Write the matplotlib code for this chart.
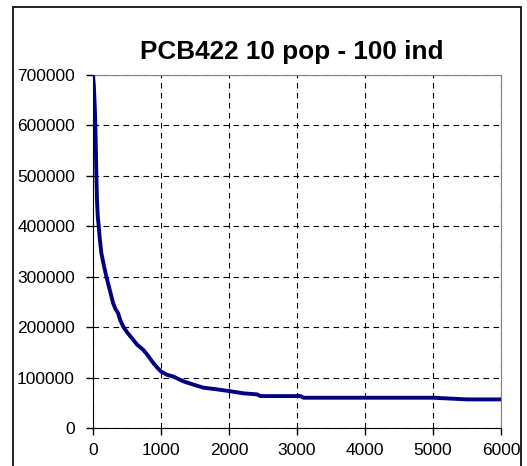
import numpy as np
import matplotlib.pyplot as plt
from matplotlib.patches import Rectangle

plt.rcParams['font.family'] = ['Liberation Sans', 'DejaVu Sans']

# best fitness per generation
generation = [0, 12, 25, 35, 50, 59, 70, 84, 100, 123, 160, 197, 246, 296,
              330, 369, 400, 443, 500, 591, 650, 739, 800, 887, 950, 1000,
              1084, 1182, 1330, 1478, 1623, 1819, 2000, 2216, 2412, 2461,
              2755, 3049, 3098, 5010, 5500, 6000]
fitness = [700000, 680000, 640000, 600000, 500000, 450000, 420000, 400000,
           375000, 346700, 322000, 300000, 274000, 247600, 236000, 227800,
           214000, 201400, 190000, 175000, 165000, 155000, 145000, 128800,
           119000, 112000, 105700, 102000, 92500, 86000, 80000, 76700, 73300,
           68700, 66700, 63300, 63300, 63300, 60000, 60000, 56700, 56700]

xticks = [0, 1000, 2000, 3000, 4000, 5000, 6000]
yticks = [0, 100000, 200000, 300000, 400000, 500000, 600000, 700000]

fig = plt.figure(figsize=(5.27, 4.66), dpi=100)
ax = fig.add_axes([93 / 527, 1 - 428 / 466, 408 / 527, 353 / 466])

ax.plot(generation, fitness, color='#000080', lw=2.8, solid_capstyle='round',
        solid_joinstyle='round', zorder=3)

ax.set_xlim(0, 6000)
ax.set_ylim(0, 700000)
ax.set_xticks(xticks)
ax.set_yticks(yticks)
ax.set_xticklabels([str(v) for v in xticks], fontsize=12.5)
ax.set_yticklabels([str(v) for v in yticks], fontsize=12.5)
ax.tick_params(axis='y', direction='out', length=5, width=1, pad=8)
ax.tick_params(axis='x', direction='out', length=5, width=1, pad=6)

ax.grid(True, color='black', linestyle=(0, (5, 4)), linewidth=0.8)
for side in ('top', 'right'):
    ax.spines[side].set_color('#808080')
for side in ('left', 'bottom'):
    ax.spines[side].set_color('black')

fig.text(292 / 527, 1 - 52 / 466, 'PCB422 10 pop - 100 ind', ha='center', va='center',
         fontsize=18.8, fontweight='bold')

# chart border
fig.patches.append(Rectangle((13 / 527, -0.05), 508 / 527, 1.05 - 7 / 466,
                             transform=fig.transFigure, fill=False,
                             edgecolor='black', linewidth=1.2))

fig.savefig('out.png', dpi=100)
